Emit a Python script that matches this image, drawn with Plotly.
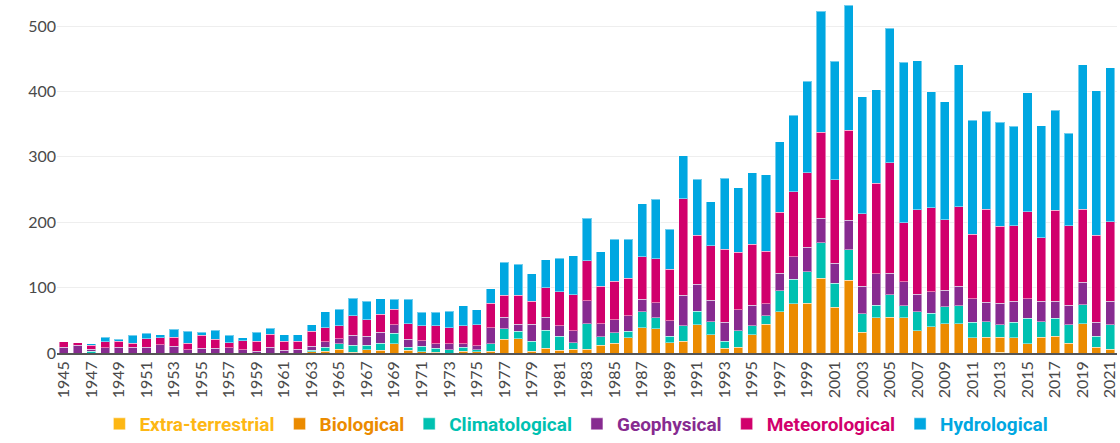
import plotly.graph_objects as go

years = [str(y) for y in range(1945, 2022)]

extra_terrestrial = [0]*68 + [1] + [0]*8

biological = [0,0,0,0,0,0,0,0,0,0, 0,0,0,0,0,0,0,0,2,3, 6,1,5,4,14,4,2,1,0,3,
              2,3,21,22,3,7,4,6,6,12, 15,23,39,37,16,18,43,28,7,9, 28,44,63,75,76,114,70,111,32,54,
              55,54,34,40,45,45,23,24,23,23, 14,24,26,15,45,9,6]

climatological = [0,0,3,0,0,0,0,0,0,0, 0,0,0,0,0,0,0,0,2,6, 8,11,7,11,16,5,8,6,5,6,
                  3,11,16,11,15,28,22,10,39,13, 16,10,24,17,10,24,21,20,11,25, 14,13,32,38,48,55,37,47,28,19,
                  34,18,29,21,26,27,24,24,19,24, 39,24,27,28,29,17,37]

geophysical = [9,12,3,8,9,9,9,13,10,5, 7,7,8,5,3,9,4,6,6,8, 8,15,14,17,13,12,9,7,9,5,
               6,25,18,11,26,20,16,18,35,20, 20,24,19,23,23,46,41,33,29,32, 31,18,27,34,38,37,30,45,42,48,
               33,37,27,33,25,30,36,30,33,32, 30,31,26,30,34,21,36]

meteorological = [8,4,6,9,9,6,13,10,14,10, 20,14,8,14,15,20,14,12,23,22, 20,30,25,27,24,24,23,28,25,28,
                  32,37,33,44,35,45,52,55,61,57, 59,57,65,67,79,148,75,83,112,88, 93,81,93,100,114,132,128,138,111,139,
                  169,90,129,128,108,122,99,142,118,116, 133,97,139,122,112,133,122]

hydrological = [0,0,2,7,3,12,8,5,12,18, 5,14,11,4,14,9,10,10,10,24, 25,27,28,24,15,37,20,20,25,30,
                23,22,51,48,42,43,51,60,65,53, 64,60,81,91,61,66,86,67,108,99, 110,117,108,117,140,185,181,191,179,143,
                206,246,228,178,180,217,174,150,159,152, 182,172,153,141,221,221,235]

names = ["Extra-terrestrial", "Biological", "Climatological", "Geophysical", "Meteorological", "Hydrological"]
colors = ["#FDB714", "#EB8B00", "#00C1B1", "#872B90", "#D1006C", "#00A7E1"]
series = [extra_terrestrial, biological, climatological, geophysical, meteorological, hydrological]

fig = go.Figure()
for name, color, vals in zip(names, colors, series):
    fig.add_trace(go.Bar(
        x=years, y=vals,
        name=f"<span style='color:{color}'>{name}</span>",
        marker=dict(color=color, line=dict(color="rgba(255,255,255,0.45)", width=1)),
    ))

fig.update_layout(
    barmode="stack",
    bargap=0.34,
    width=1120, height=443,
    margin=dict(l=57, r=3, t=0, b=90),
    plot_bgcolor="white",
    paper_bgcolor="white",
    font=dict(family="Lato, Noto Sans, sans-serif", color="#4a4a4a"),
    showlegend=True,
    legend=dict(
        orientation="h", x=0.49, xanchor="center",
        yref="container", y=-0.022, yanchor="bottom",
        traceorder="normal",
        font=dict(family="Roboto, sans-serif", size=19, weight="bold"),
        itemclick=False,
    ),
    xaxis=dict(
        type="category",
        tickmode="array",
        tickvals=years[::2],
        ticktext=years[::2],
        tickangle=-90,
        tickfont=dict(size=16, color="#4a4a4a"),
        showline=True, linecolor="#555555", linewidth=1.5,
        showgrid=False,
        ticks="",
        automargin=False,
    ),
    yaxis=dict(
        range=[0, 540],
        tickvals=[0, 100, 200, 300, 400, 500],
        tickfont=dict(size=16, color="#4a4a4a"),
        showgrid=True, gridcolor="#eeeeee", gridwidth=1,
        zeroline=False,
        ticks="", ticklen=0,
        automargin=False,
    ),
)

fig.write_html("out.html", config={"displayModeBar": False},
               post_script="document.body.style.margin='0';")
